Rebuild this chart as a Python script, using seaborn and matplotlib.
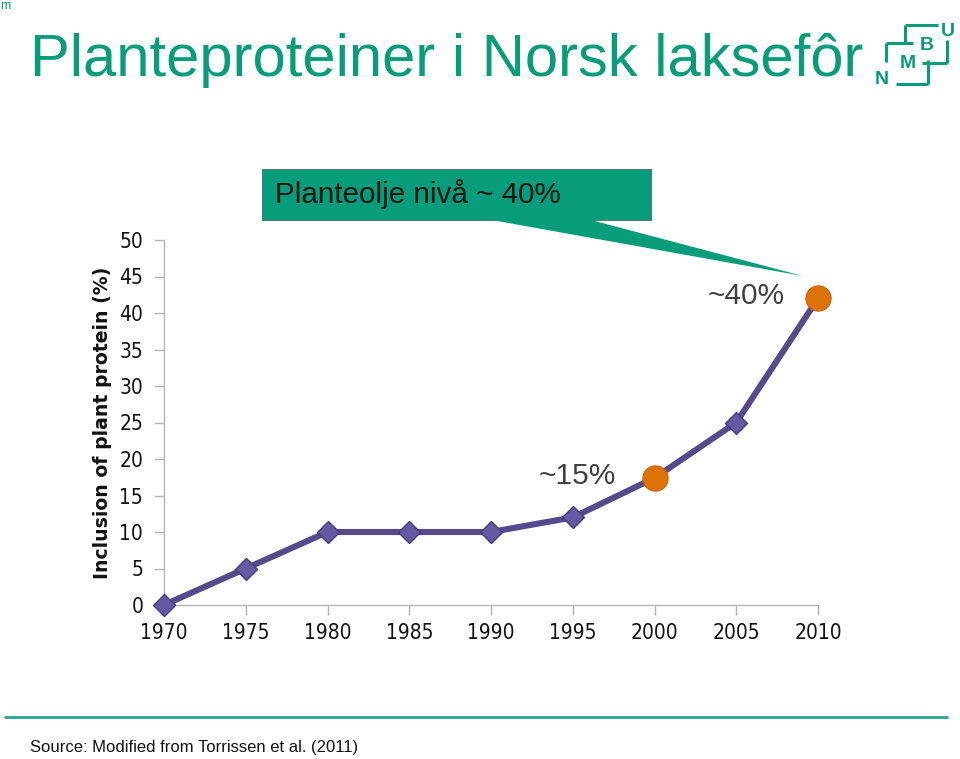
import matplotlib
matplotlib.use("Agg")
import matplotlib.pyplot as plt
from matplotlib.patches import Rectangle, Polygon
from matplotlib.lines import Line2D
import seaborn as sns
import pandas as pd

# data
years = [1970, 1975, 1980, 1985, 1990, 1995, 2000, 2005, 2010]
plant_protein = [0, 5, 10, 10, 10, 12, 17.4, 25, 42]
highlight_years = [2000, 2010]
highlight_labels = ["~15%", "~40%"]
y_ticks = [0, 5, 10, 15, 20, 25, 30, 35, 40, 45, 50]

title = "Planteproteiner i Norsk laksefôr"
callout = "Planteolje nivå ~ 40%"
source = "Source: Modified from Torrissen et al. (2011)"

teal = "#079c7a"
purple = "#564a8c"
orange = "#dd7209"

df = pd.DataFrame({"year": years, "pct": plant_protein})
hl = df[df["year"].isin(highlight_years)]

sns.set_theme(style="white")
plt.rcParams["font.family"] = ["DejaVu Sans"]

W, H = 960, 759
fig = plt.figure(figsize=(9.6, 7.59), dpi=100)


def fx(x):
    return x / W


def fy(y):
    return 1 - y / H


ax = fig.add_axes([fx(164), fy(605), fx(818) - fx(164), fy(240) - fy(605)])

sns.lineplot(data=df, x="year", y="pct", ax=ax, color=purple, linewidth=4.4,
             marker="D", markersize=11, markerfacecolor="#6659a3",
             markeredgecolor="#483c7a", markeredgewidth=1, clip_on=False, zorder=3)
sns.scatterplot(data=hl, x="year", y="pct", ax=ax, color=orange, s=330,
                edgecolor="#c96505", linewidth=0.8, clip_on=False, zorder=4)

ax.set_xlim(1970, 2010)
ax.set_ylim(0, 50)
ax.set_xticks(years)
ax.set_yticks(y_ticks)
ax.tick_params(axis="both", which="both", direction="out", length=7, width=1,
               color="#b5b5b5", labelsize=15, labelcolor="#111111",
               bottom=True, left=True)
ax.tick_params(axis="x", pad=6)
ax.tick_params(axis="y", pad=8)
for lab in ax.get_xticklabels() + ax.get_yticklabels():
    lab.set_fontstretch("condensed")
for side in ["top", "right"]:
    ax.spines[side].set_visible(False)
for side in ["left", "bottom"]:
    ax.spines[side].set_color("#b5b5b5")
    ax.spines[side].set_linewidth(1)
ax.set_xlabel("")
ax.set_ylabel("Inclusion of plant protein (%)", fontsize=13.6, fontweight="bold",
              color="#111111", labelpad=5)

# value labels near the orange points
offsets = [(-77, 2), (-72, 2)]
for (x, y), lab, (dx, dy) in zip(hl[["year", "pct"]].values, highlight_labels, offsets):
    ax.annotate(lab, (x, y), xytext=(dx, dy), textcoords="offset pixels",
                ha="center", va="center", fontsize=21.5, color="#404040",
                family="Liberation Sans")

# title
fig.text(fx(30), fy(76), title, fontsize=43, color=teal, family="Liberation Sans",
         ha="left", va="baseline")
fig.text(fx(0), fy(9), "m", fontsize=9, color=teal, family="Liberation Sans",
         ha="left", va="baseline")

# callout box with pointer
fig.patches.append(Rectangle((fx(262), fy(220)), fx(651) - fx(262), fy(169) - fy(220),
                             transform=fig.transFigure, facecolor=teal,
                             edgecolor="#4d7d72", linewidth=0.8))
fig.patches.append(Polygon([(fx(489), fy(219.5)), (fx(589), fy(219.5)), (fx(803), fy(276))],
                           closed=True, transform=fig.transFigure, facecolor=teal,
                           edgecolor="none"))
fig.text(fx(275), fy(203), callout, fontsize=21.3, color="#151515",
         family="Liberation Sans", ha="left", va="baseline")

# logo
logo_lines = [
    [(905, 25), (938, 25)], [(905, 25), (905, 43)],
    [(886, 43), (913, 43)], [(886, 43), (886, 62)],
    [(947, 40), (947, 63)], [(922, 63), (947, 63)],
    [(928, 60), (928, 84)], [(896, 84), (928, 84)],
]
for (x0, y0), (x1, y1) in logo_lines:
    fig.add_artist(Line2D([fx(x0), fx(x1)], [fy(y0), fy(y1)], transform=fig.transFigure,
                          color=teal, linewidth=2.2, solid_capstyle="butt"))
for letter, x, y in [("U", 948, 32), ("B", 927, 46), ("M", 908, 64), ("N", 882, 80)]:
    fig.text(fx(x), fy(y), letter, fontsize=14, fontweight="bold", color=teal,
             family="Liberation Sans", ha="center", va="center")

# footer
fig.add_artist(Line2D([fx(5), fx(947)], [fy(717), fy(717)], transform=fig.transFigure,
                      color="#2aa58d", linewidth=2))
fig.text(fx(30), fy(752), source, fontsize=12, color="#111111",
         family="Liberation Sans", ha="left", va="baseline")

fig.savefig("out.png", dpi=100, facecolor="white")
